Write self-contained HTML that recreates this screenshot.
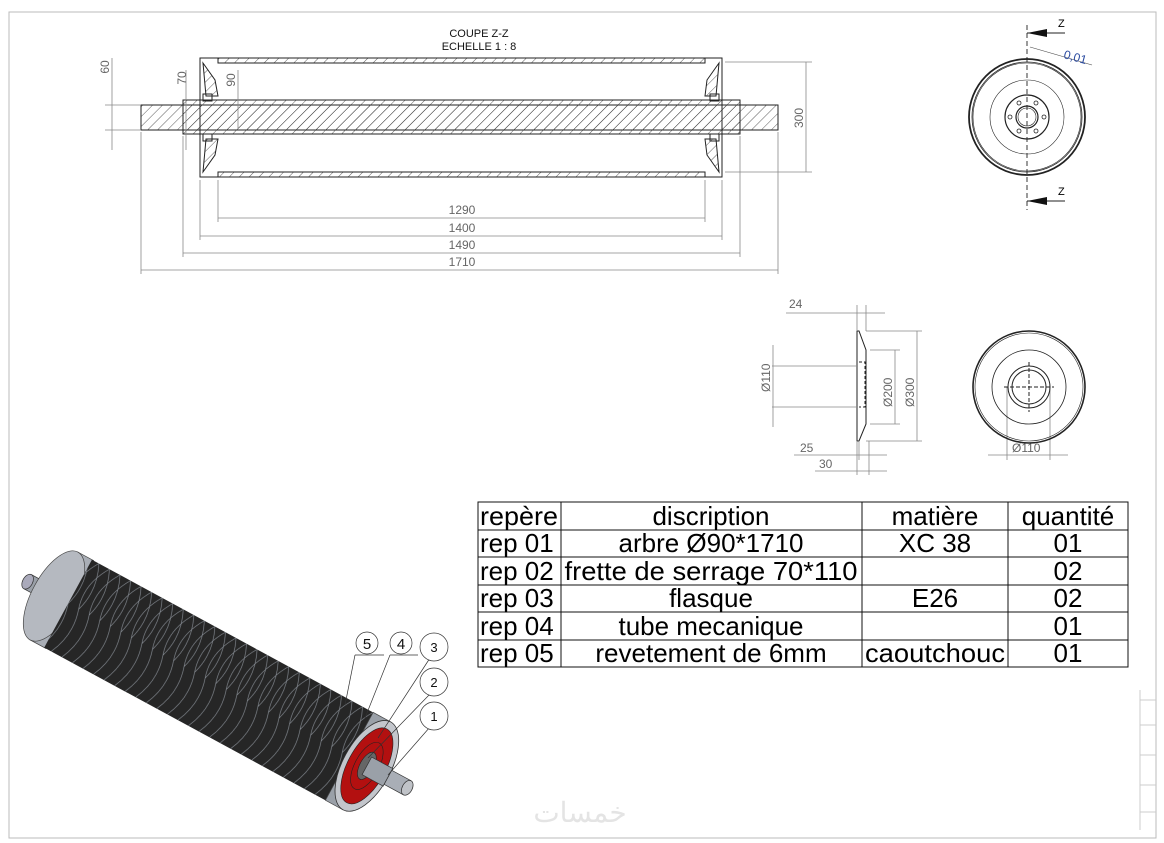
<!DOCTYPE html>
<html><head><meta charset="utf-8"><style>
body{margin:0;background:#fff;width:1164px;height:843px;overflow:hidden}
svg{display:block}
text{font-family:"Liberation Sans",sans-serif}
</style></head><body>
<svg width="1164" height="843" viewBox="0 0 1164 843" xmlns="http://www.w3.org/2000/svg">
<defs>
<pattern id="h" width="7" height="7" patternUnits="userSpaceOnUse" patternTransform="rotate(45)">
<line x1="0" y1="0" x2="0" y2="7" stroke="#333" stroke-width="0.8"/></pattern>
<pattern id="rub" width="12" height="100" patternUnits="userSpaceOnUse" y="-50">
<path d="M0,0 Q12,25 4,50 M0,100 Q12,75 4,50 M4,50 Q-4,25 12,0" fill="none" stroke="#8a9098" stroke-width="0.6"/></pattern>
</defs>
<rect x="9" y="12" width="1147" height="826" fill="none" stroke="#bbb" stroke-width="1"/>
<g stroke="#ccc" stroke-width="1">
<line x1="1140" y1="690" x2="1140" y2="830"/><line x1="1140" y1="700" x2="1156" y2="700"/><line x1="1140" y1="725" x2="1156" y2="725"/><line x1="1140" y1="755" x2="1156" y2="755"/><line x1="1140" y1="785" x2="1156" y2="785"/><line x1="1140" y1="812" x2="1156" y2="812"/>
</g>
<text x="479" y="37" font-size="11" text-anchor="middle" fill="#111">COUPE Z-Z</text>
<text x="479" y="50" font-size="11" text-anchor="middle" fill="#111">ECHELLE 1 : 8</text>
<g stroke="#222" stroke-width="1" fill="none">
<rect x="200" y="58" width="522" height="119"/>
<rect x="218" y="58" width="487" height="5" fill="url(#h)"/>
<rect x="218" y="172" width="487" height="5" fill="url(#h)"/>
<rect x="141" y="105" width="637" height="25" fill="url(#h)"/>
<rect x="183" y="100" width="557" height="34" fill="url(#h)"/>
<path d="M203,63 L215,80 L218,96 L206,96 Z M203,172 L215,155 L218,139 L206,139 Z M719,63 L707,80 L705,96 L716,96 Z M719,172 L707,155 L705,139 L716,139 Z" fill="url(#h)"/>
<rect x="203" y="94" width="9" height="7"/><rect x="203" y="134" width="9" height="7"/>
<rect x="710" y="94" width="9" height="7"/><rect x="710" y="134" width="9" height="7"/>
</g>
<g stroke="#888" stroke-width="0.8" fill="none">
<line x1="218" y1="180" x2="218" y2="222"/><line x1="705" y1="180" x2="705" y2="222"/>
<line x1="200" y1="180" x2="200" y2="240"/><line x1="722" y1="180" x2="722" y2="240"/>
<line x1="183" y1="136" x2="183" y2="257"/><line x1="740" y1="136" x2="740" y2="257"/>
<line x1="141" y1="132" x2="141" y2="274"/><line x1="778" y1="132" x2="778" y2="274"/>
<line x1="218" y1="218" x2="705" y2="218"/><line x1="200" y1="236" x2="722" y2="236"/>
<line x1="183" y1="253" x2="740" y2="253"/><line x1="141" y1="270" x2="778" y2="270"/>
<line x1="725" y1="62" x2="812" y2="62"/><line x1="725" y1="172" x2="812" y2="172"/><line x1="806" y1="62" x2="806" y2="172"/>
<line x1="105" y1="105" x2="141" y2="105"/><line x1="105" y1="130" x2="141" y2="130"/><line x1="112" y1="58" x2="112" y2="150"/>
<line x1="186" y1="70" x2="186" y2="150"/><line x1="238" y1="70" x2="238" y2="130"/>
</g>
<g font-size="12" fill="#666" text-anchor="middle">
<text x="462" y="214">1290</text><text x="462" y="232">1400</text><text x="462" y="249">1490</text><text x="462" y="266">1710</text>
<text transform="translate(803,118) rotate(-90)">300</text>
<text transform="translate(109,67) rotate(-90)">60</text>
<text transform="translate(186,78) rotate(-90)">70</text>
<text transform="translate(235,80) rotate(-90)">90</text>
</g>
<g stroke="#222" fill="none">
<circle cx="1027" cy="117" r="58" stroke-width="1.8"/><circle cx="1027" cy="117" r="55" stroke-width="0.8"/><circle cx="1027" cy="117" r="54" stroke-width="0.6"/>
<circle cx="1027" cy="117" r="37" stroke-width="0.6"/><circle cx="1027" cy="117" r="22" stroke-width="1.2"/><circle cx="1027" cy="117" r="11" stroke-width="1.2"/><circle cx="1027" cy="117" r="9" stroke-width="0.6"/>
<g stroke-width="0.8"><circle cx="1010" cy="117" r="2"/><circle cx="1044" cy="117" r="2"/><circle cx="1019" cy="103" r="2"/><circle cx="1036" cy="103" r="2"/><circle cx="1019" cy="131" r="2"/><circle cx="1036" cy="131" r="2"/></g>
<line x1="1027" y1="25" x2="1027" y2="210" stroke-dasharray="5,3" stroke-width="0.9"/>
<line x1="1027" y1="33" x2="1065" y2="33"/><line x1="1027" y1="201" x2="1065" y2="201"/>
<line x1="1030" y1="47" x2="1092" y2="65" stroke="#444" stroke-width="0.6"/>
</g>
<path d="M1027,33 L1047,29 L1047,37 Z M1027,201 L1047,197 L1047,205 Z" fill="#111"/>
<text x="1058" y="27" font-size="11">Z</text><text x="1058" y="195" font-size="11">Z</text>
<text x="1063" y="58" font-size="12" fill="#2a4aa0" transform="rotate(15 1063 58)">0,01</text>
<g stroke="#222" fill="none" stroke-width="1">
<path d="M857,331 L857,441 L859,441 L866,424 L866,350 L859,331 Z"/>
<path d="M859,362 L865,362 L865,407 L859,407" stroke-dasharray="3,2"/>
</g>
<g stroke="#888" stroke-width="0.8" fill="none">
<line x1="786" y1="313" x2="885" y2="313"/><line x1="857" y1="305" x2="857" y2="331"/><line x1="866" y1="305" x2="866" y2="331"/>
<line x1="772" y1="366" x2="857" y2="366"/><line x1="772" y1="407" x2="857" y2="407"/><line x1="773" y1="345" x2="773" y2="427"/>
<line x1="870" y1="350" x2="900" y2="350"/><line x1="870" y1="424" x2="900" y2="424"/><line x1="895" y1="350" x2="895" y2="424"/>
<line x1="866" y1="331" x2="922" y2="331"/><line x1="866" y1="441" x2="922" y2="441"/><line x1="917" y1="331" x2="917" y2="441"/>
<line x1="794" y1="455" x2="887" y2="455"/><line x1="815" y1="471" x2="887" y2="471"/>
<line x1="857" y1="441" x2="857" y2="475"/><line x1="859" y1="441" x2="859" y2="460"/><line x1="869" y1="441" x2="869" y2="475"/>
<line x1="988" y1="455" x2="1068" y2="455"/><line x1="1007" y1="387" x2="1007" y2="460"/><line x1="1050" y1="387" x2="1050" y2="460"/>
</g>
<g font-size="12" fill="#666">
<text x="789" y="308">24</text><text x="800" y="452">25</text><text x="819" y="468">30</text>
<text transform="translate(770,392) rotate(-90)">Ø110</text>
<text transform="translate(892,407) rotate(-90)">Ø200</text>
<text transform="translate(914,407) rotate(-90)">Ø300</text>
<text x="1012" y="452">Ø110</text>
</g>
<g stroke="#222" fill="none">
<circle cx="1029" cy="387" r="56" stroke-width="1.6"/><circle cx="1029" cy="387" r="54" stroke-width="0.6"/>
<circle cx="1029" cy="387" r="37" stroke-width="0.8"/><circle cx="1029" cy="387" r="21" stroke-width="1"/><circle cx="1029" cy="387" r="17" stroke-width="1"/>
<path d="M1004,387 H1054 M1029,362 V412" stroke-dasharray="4,2"/>
</g>
<g stroke="#111" stroke-width="1" fill="none">
<rect x="478" y="502" width="650" height="165"/>
<line x1="478" y1="530" x2="1128" y2="530"/><line x1="478" y1="557" x2="1128" y2="557"/><line x1="478" y1="585" x2="1128" y2="585"/><line x1="478" y1="612" x2="1128" y2="612"/><line x1="478" y1="640" x2="1128" y2="640"/>
<line x1="561" y1="502" x2="561" y2="667"/><line x1="862" y1="502" x2="862" y2="667"/><line x1="1008" y1="502" x2="1008" y2="667"/>
</g>
<g font-size="26" fill="#000">
<text x="480" y="525" textLength="78" lengthAdjust="spacingAndGlyphs">repère</text><text x="480" y="552">rep 01</text><text x="480" y="580">rep 02</text><text x="480" y="607">rep 03</text><text x="480" y="635">rep 04</text><text x="480" y="662">rep 05</text>
<g text-anchor="middle">
<text x="711" y="525">discription</text><text x="711" y="552">arbre Ø90*1710</text><text x="711" y="580" textLength="293" lengthAdjust="spacingAndGlyphs">frette de serrage 70*110</text><text x="711" y="607">flasque</text><text x="711" y="635">tube mecanique</text><text x="711" y="662">revetement de 6mm</text>
<text x="935" y="525">matière</text><text x="935" y="552">XC 38</text><text x="935" y="607">E26</text><text x="935" y="662" textLength="140" lengthAdjust="spacingAndGlyphs">caoutchouc</text>
<text x="1068" y="525">quantité</text><text x="1068" y="552">01</text><text x="1068" y="580">02</text><text x="1068" y="607">02</text><text x="1068" y="635">01</text><text x="1068" y="662">01</text>
</g></g>
<!-- 3D roller -->
<g transform="translate(54,596) rotate(28.5)">
<rect x="-30" y="-8" width="30" height="16" fill="#9aa0a8" stroke="#333" stroke-width="0.7"/>
<ellipse cx="-30" cy="0" rx="5" ry="8" fill="#aab" stroke="#333" stroke-width="0.7"/>
<rect x="0" y="-50" width="18" height="100" fill="#a9aeb6" stroke="#444" stroke-width="0.7"/>
<ellipse cx="0" cy="0" rx="22" ry="50" fill="#b5b9c0" stroke="#444" stroke-width="0.7"/>
<rect x="16" y="-50" width="322" height="100" fill="#262626"/>
<rect x="16" y="-50" width="322" height="100" fill="url(#rub)"/>
<rect x="336" y="-50" width="20" height="100" fill="#9aa0a8" stroke="#444" stroke-width="0.7"/>
<ellipse cx="356" cy="0" rx="24" ry="50" fill="#c3c6cc" stroke="#333" stroke-width="0.8"/>
<ellipse cx="356" cy="0" rx="19" ry="42" fill="#b31010" stroke="#222" stroke-width="0.6"/>
<ellipse cx="356" cy="0" rx="12" ry="26" fill="none" stroke="#222" stroke-width="0.6"/>
<ellipse cx="356" cy="0" rx="7" ry="15" fill="#666" stroke="#222" stroke-width="0.6"/>
<rect x="356" y="-10" width="24" height="20" fill="#9aa0a8" stroke="#333" stroke-width="0.7"/>
<rect x="380" y="-8" width="22" height="16" fill="#a9aeb6" stroke="#333" stroke-width="0.7"/>
<ellipse cx="402" cy="0" rx="5" ry="8" fill="#c0c3c8" stroke="#333" stroke-width="0.7"/>
</g>
<g stroke="#333" stroke-width="0.7" fill="#fff">
<path d="M355,655 H384 M355,655 L345,705 M390,655 H418 M390,655 L365,718 M430,658 L378,738 M430,694 L368,758 M430,727 L388,775" fill="none"/>
<circle cx="367" cy="643" r="11"/><circle cx="401" cy="643" r="11"/><circle cx="434" cy="647" r="14"/><circle cx="434" cy="682" r="14"/><circle cx="434" cy="716" r="14"/>
</g>
<g font-size="15" fill="#111" text-anchor="middle">
<text x="367" y="649">5</text><text x="401" y="649">4</text><text x="434" y="652" font-size="13">3</text><text x="434" y="687" font-size="13">2</text><text x="434" y="721" font-size="13">1</text>
</g>
<text x="580" y="822" font-size="28" fill="#e4e4e4" text-anchor="middle" font-family="'DejaVu Sans',sans-serif">خمسات</text>
</svg>
</body></html>
